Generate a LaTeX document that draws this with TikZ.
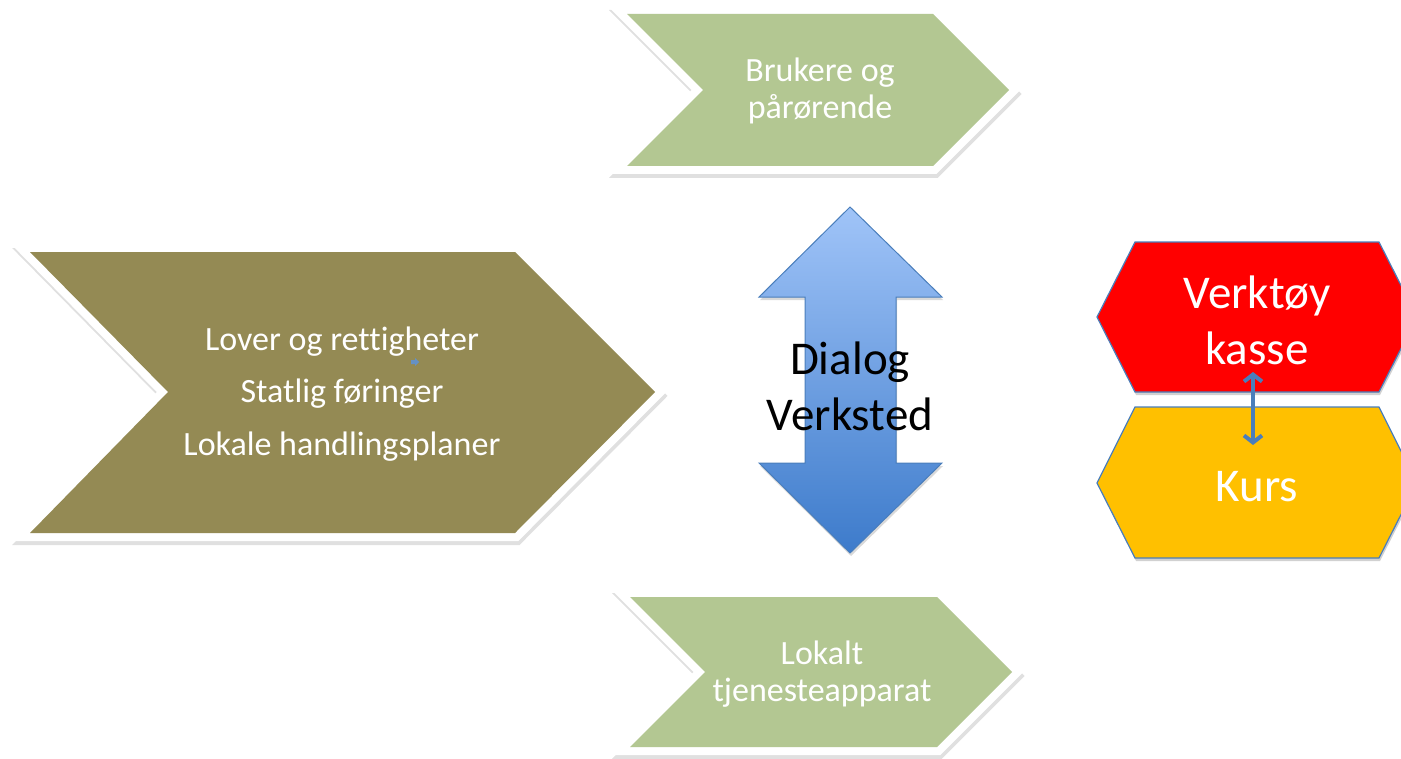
\documentclass[tikz,border=0pt]{standalone}
\usepackage{fontspec}
\setmainfont{Carlito}[Ligatures=NoCommon]
\usepackage{tikz}
\usetikzlibrary{arrows.meta}
\definecolor{OliveBox}{HTML}{948A54}
\definecolor{SageBox}{HTML}{B3C792}
\definecolor{ArrowTop}{HTML}{A0C4F8}
\definecolor{ArrowBot}{HTML}{3D7BCB}
\definecolor{EdgeBlue}{HTML}{4A7EBB}
\definecolor{KursOrange}{HTML}{FFC000}
\tikzset{
  chev/.style={line join=miter,
    preaction={draw=black!12, fill=black!12, line width=8pt, line join=miter, transform canvas={shift={(0.6pt,-2pt)}}},
    preaction={draw=white, fill=white, line width=8pt, line join=miter}},
  hexa/.style={draw=EdgeBlue, line width=0.6pt, line join=miter,
    preaction={fill=black!18, transform canvas={shift={(0.5pt,-1.5pt)}}}},
  dblarrow/.style={draw=EdgeBlue, line width=0.5pt, top color=ArrowTop, bottom color=ArrowBot,
    preaction={fill=black!15, transform canvas={shift={(0.5pt,-1.5pt)}}}},
  lbl/.style={text=white, align=center, font=\fontsize{17}{18.5}\selectfont},
  big/.style={align=center, font=\fontsize{23.5}{28}\selectfont}
}

\begin{document}
\begin{tikzpicture}[x=0.5pt,y=-0.5pt]
\useasboundingbox (0,0) rectangle (1401,759);
\clip (0,0) rectangle (1401,759);

\fill[chev, OliveBox] (30,252) -- (515,252) -- (655,392) -- (515,533) -- (30,533) -- (168,392) -- cycle;
\fill[chev, SageBox] (627,14) -- (933,14) -- (1009,90) -- (933,166) -- (627,166) -- (703,90) -- cycle;
\fill[chev, SageBox] (630,597) -- (937,597) -- (1012,672) -- (937,747) -- (630,747) -- (705,672) -- cycle;

\node[lbl] (lover) at (342,342) {Lover og rettigheter};
\node[lbl] (statlig) at (342,394) {Statlig føringer};
\node[lbl] (lokale) at (342,447) {Lokale handlingsplaner};
\fill[EdgeBlue!85] (411,360) -- (415,360) -- (415,358) -- (419,362) -- (415,366) -- (415,364) -- (411,364) -- cycle;

\node[lbl] (brukere) at (820,91) {Brukere og\\pårørende};
\node[lbl] (tjeneste) at (822,674) {Lokalt\\tjenesteapparat};

\draw[dblarrow] (850,207) -- (942,297) -- (896,297) -- (896,463) -- (942,463) -- (850,553)
  -- (759,463) -- (805,463) -- (805,297) -- (759,297) -- cycle;
\node[big] (dialog) at (850,386) {Dialog\\Verksted};

\draw[hexa, fill=red] (1097,317) -- (1135,242) -- (1379,242) -- (1417,317) -- (1379,392) -- (1135,392) -- cycle;
\draw[hexa, fill=KursOrange] (1097,483) -- (1135,407) -- (1379,407) -- (1417,483) -- (1379,558) -- (1135,558) -- cycle;
\node[big, text=white] (verktoy) at (1257,320) {Verktøy\\kasse};
\node[big, text=white] (kurs) at (1257,487) {Kurs};

\coordinate (kasseend) at (1253,372);
\coordinate (kursend) at (1253,445);
\draw[EdgeBlue, line width=2pt, {Straight Barb[length=3.5pt, width=9pt]}-{Straight Barb[length=3.5pt, width=9pt]}] (kasseend) -- (kursend);
\end{tikzpicture}
\end{document}
